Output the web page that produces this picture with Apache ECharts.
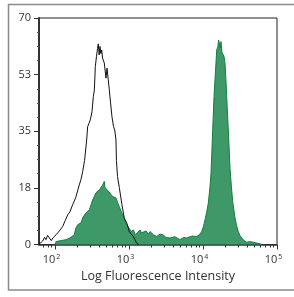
<!DOCTYPE html>
<html>
  <head>
    <meta charset="utf-8">
    <title>Log Fluorescence Histogram</title>
    <style>
      html, body { margin: 0; padding: 0; background: #fff; }
      #main { width: 294px; height: 297px; }
    </style>
    <script src="https://cdn.jsdelivr.net/npm/echarts@6/dist/echarts.min.js"></script>
  </head>
  <body>
    <div id="main"></div>
    <script type="text/javascript">

      // x values are log10(intensity), y values are counts
      var openLogX = [1.78,1.834,1.86,1.878,1.90,1.923,1.95,1.97,2.014,2.06,2.104,2.14,2.172,2.20,2.239,2.28,2.328,2.35,2.374,2.40,2.428,2.441,2.46,2.477,2.50,2.518,2.532,2.545,2.56,2.575,2.585,2.597,2.608,2.62,2.631,2.643,2.666,2.689,2.703,2.72,2.734,2.75,2.77,2.79,2.807,2.824,2.83,2.845,2.869,2.905,2.936,2.969,3.004,3.03,3.058,3.081,3.1,3.13]
      var openCount = [0,1.1,2.2,1.5,2.8,2.5,1.2,2.0,3.0,4.2,5.6,7.5,9.2,10.0,12.3,14.5,18.4,20.0,22.5,26,32.3,36.4,37.5,38.5,41,45.7,47.8,55.0,58,60.6,62.0,58.6,61.2,59,60.1,57.6,56.1,51.4,54.5,50.9,47.8,44,39.5,36.5,35.4,32.3,26,21,17.6,12.3,8.2,6.7,4.0,3.2,2.5,1.5,0.5,0]

      var stainLogX = [2.0,2.014,2.08,2.149,2.2,2.261,2.28,2.307,2.33,2.351,2.38,2.419,2.44,2.464,2.49,2.509,2.53,2.554,2.575,2.599,2.62,2.645,2.666,2.676,2.689,2.71,2.734,2.755,2.78,2.80,2.824,2.845,2.869,2.89,2.915,2.935,2.959,2.99,3.027,3.06,3.085,3.12,3.149,3.17,3.193,3.23,3.26,3.284,3.33,3.374,3.42,3.459,3.50,3.554,3.62,3.689,3.74,3.78,3.85,3.915,3.95,3.982,4.005,4.027,4.05,4.072,4.095,4.108,4.118,4.131,4.149,4.162,4.175,4.185,4.2,4.21,4.22,4.232,4.243,4.255,4.274,4.285,4.297,4.31,4.32,4.342,4.365,4.385,4.401,4.432,4.455,4.477,4.50,4.523,4.555,4.591,4.63,4.68,4.77,4.8]
      var stainCount = [0,0.9,1.2,1.5,2.0,3.0,5.0,6.1,5.5,6.7,8.5,9.8,9.5,10.7,12.5,13.8,14.8,16.0,16.3,16.9,17.2,18.4,19.5,17.5,17.9,16.8,16.4,15.5,14.8,15.2,14.4,13,11.7,10.5,9.2,8.0,6.7,5.5,4.0,4.5,3.0,3.8,4.5,3.6,3.5,4.2,3.2,4.0,3.0,2.5,3.2,3.0,2.2,2.0,2.4,1.5,2.2,2.0,2.6,2.5,3.0,4.0,5.5,7.6,10,12.8,17.9,22,27.7,35.4,45.7,50.9,56,60.1,61,63.2,62.4,60.8,62.7,59.5,60.1,58,56.0,51,45.7,35.4,23.6,17.5,13.3,8.2,5.8,4.0,2.8,2.0,1.2,0.7,0.9,0.7,0.2,0]

      var decadeTicks = [2, 3, 4, 5]
      var yTicks = [0, 17.5, 35, 52.5, 70]

      var xMin = Math.log10(60.8)
      var xMax = 5

      function pairs(xs, ys) {
        var out = []
        for (var i = 0; i < xs.length; i++) out.push([xs[i], ys[i]])
        return out
      }

      // minor log ticks (2..9 in each decade)
      var minorTicks = []
      for (var d = 1; d < 5; d++) {
        for (var m = 2; m <= 9; m++) {
          var v = d + Math.log10(m)
          if (v > xMin && v < xMax) minorTicks.push(v)
        }
      }

      var myChart = echarts.init(document.getElementById('main'))

      var option = {
        animation: false,
        textStyle: { fontFamily: 'Open Sans' },
        graphic: [{
          type: 'rect',
          shape: { x: 8.5, y: 4.5, width: 290, height: 285.5 },
          style: { fill: null, stroke: '#8a8a8a', lineWidth: 1.5 },
          silent: true
        }],
        grid: {
          left: 39, top: 18, right: 17, bottom: 52.5,
          show: true, borderColor: '#222', borderWidth: 1, backgroundColor: 'transparent'
        },
        xAxis: [{
          type: 'value',
          min: xMin, max: xMax,
          name: 'Log Fluorescence Intensity',
          nameLocation: 'middle',
          nameGap: 25,
          nameTextStyle: { fontSize: 12.5, color: '#333' },
          splitLine: { show: false },
          axisLine: { lineStyle: { color: '#333', width: 1.5 } },
          axisTick: { customValues: decadeTicks, length: 5, lineStyle: { color: '#333' } },
          axisLabel: {
            customValues: decadeTicks,
            margin: 9,
            padding: [0, 7, 0, 0],
            formatter: function (v) { return '{a|10}{s|' + Math.round(v) + '}' },
            rich: {
              a: { fontSize: 11, color: '#333' },
              s: { fontSize: 7, color: '#333', verticalAlign: 'top', padding: [0, 0, 5, 1] }
            }
          }
        }, {
          type: 'value',
          min: xMin, max: xMax,
          position: 'bottom',
          splitLine: { show: false },
          axisLine: { show: false },
          axisLabel: { show: false },
          axisTick: { customValues: minorTicks, length: 3, lineStyle: { color: '#333' } }
        }],
        yAxis: {
          type: 'value',
          min: 0, max: 70, interval: 17.5,
          splitLine: { show: false },
          axisLine: { show: true, lineStyle: { color: '#333', width: 2 } },
          axisTick: { show: true, length: 5, lineStyle: { color: '#333' } },
          minorTick: { show: true, splitNumber: 4, length: 2, lineStyle: { color: '#555' } },
          axisLabel: {
            margin: 8, fontSize: 11, color: '#333',
            formatter: function (v) { return Math.round(v) }
          }
        },
        series: [{
          name: 'stained',
          type: 'line',
          data: pairs(stainLogX, stainCount),
          showSymbol: false,
          lineStyle: { color: '#12803f', width: 1 },
          areaStyle: { color: '#3e9868', opacity: 1 },
          z: 2
        }, {
          name: 'control',
          type: 'line',
          data: pairs(openLogX, openCount),
          showSymbol: false,
          lineStyle: { color: '#111', width: 1 },
          z: 3
        }]
      }

      myChart.setOption(option)
    </script>
  </body>
</html>
